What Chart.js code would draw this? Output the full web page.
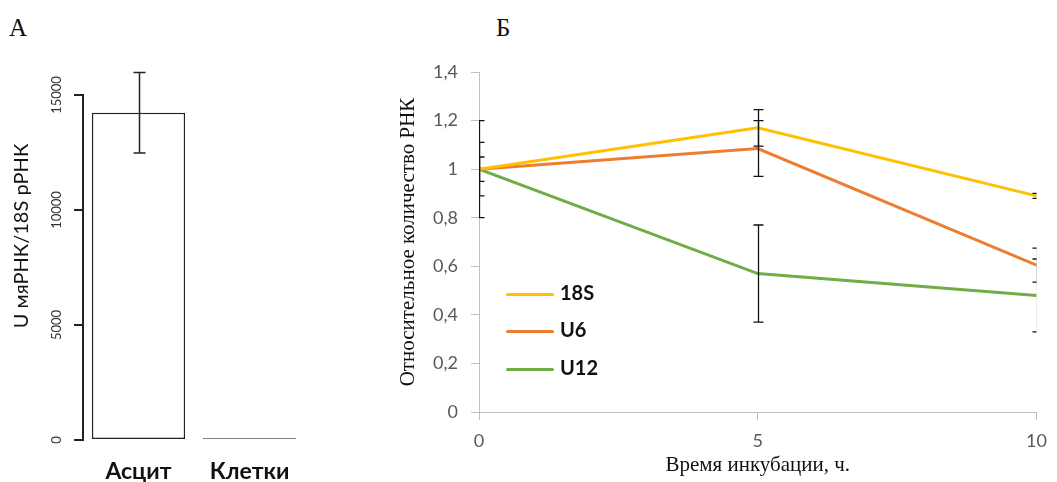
<!DOCTYPE html>
<html>
<head>
<meta charset="utf-8">
<script src="https://cdn.jsdelivr.net/npm/chart.js@4.4.0/dist/chart.umd.min.js"></script>
<style>
    body { margin: 0; width: 1057px; height: 482px; background: #fff; position: relative; overflow: hidden; }
    #wrapA { position: absolute; left: 0; top: 0; width: 320px; height: 482px; }
    #wrapB { position: absolute; left: 380px; top: 0; width: 677px; height: 482px; }
    .panel { position: absolute; font-family: "Liberation Serif", serif; font-size: 25px; color: #111; }
    .leg { position: absolute; left: 506px; font-family: Lato, sans-serif; font-weight: bold; font-size: 20px; color: #111; }
    .leg span { display: inline-block; width: 48px; height: 3px; vertical-align: middle; margin-right: 6px; border-radius: 2px; }
</style>
</head>
<body>
<div class="panel" style="left:9px;top:14px;">А</div>
<div class="panel" style="left:496px;top:14px;">Б</div>
<div id="wrapA"><canvas id="chartA" width="320" height="482"></canvas></div>
<div id="wrapB"><canvas id="chartB" width="677" height="482"></canvas></div>
<div class="leg" style="top:280px;"><span style="background:#FFC000"></span>18S</div>
<div class="leg" style="top:317px;"><span style="background:#ED7D31"></span>U6</div>
<div class="leg" style="top:355px;"><span style="background:#70AD47"></span>U12</div>

<script>
// панель А: U мяРНК / 18S рРНК
const categoriesA = ['Асцит', 'Клетки'];
const valuesA = [14230, 80];
const errorsA = [1750, 0];
const yTicksA = [0, 5000, 10000, 15000];

// панель Б: относительное количество РНК по времени
const timePoints = [0, 5, 10];
const series18S = [1, 1.17, 0.89];
const seriesU6 = [1, 1.085, 0.605];
const seriesU12 = [1, 0.57, 0.48];
const err18S = [0.11, 0.075, 0.01];
const errU6 = [0.05, 0.115, 0.07];
const errU12 = [0.2, 0.2, 0.15];

Chart.defaults.animation = false;
Chart.defaults.responsive = false;

// barras de error en negro, recortadas al área del gráfico
const errorBarPlugin = {
    id: 'errorBars',
    afterDatasetsDraw(chart, args, opts) {
        const ctx = chart.ctx;
        const area = chart.chartArea;
        const yScale = chart.scales.y;
        ctx.save();
        ctx.beginPath();
        ctx.rect(area.left, area.top - 40, area.right - area.left, area.bottom - area.top + 40);
        ctx.clip();
        ctx.strokeStyle = opts.color || '#111';
        ctx.lineWidth = opts.width || 1.3;
        chart.data.datasets.forEach((ds, i) => {
            if (!ds.errors) return;
            const meta = chart.getDatasetMeta(i);
            meta.data.forEach((el, j) => {
                const e = ds.errors[j];
                if (!e) return;
                const raw = ds.data[j];
                const v = typeof raw === 'object' ? raw.y : raw;
                const x = Math.round(el.x) + 0.5;
                const yTop = yScale.getPixelForValue(v + e);
                const yBot = yScale.getPixelForValue(v - e);
                const cap = opts.cap || 5;
                ctx.beginPath();
                ctx.moveTo(x, yTop); ctx.lineTo(x, yBot);
                ctx.moveTo(x - cap, yTop); ctx.lineTo(x + cap, yTop);
                ctx.moveTo(x - cap, yBot); ctx.lineTo(x + cap, yBot);
                ctx.stroke();
            });
        });
        ctx.restore();
    }
};

// eje Y de la panel A sólo entre 0 y 15000
const axisLineA = {
    id: 'axisLineA',
    afterDraw(chart) {
        const ctx = chart.ctx;
        const y = chart.scales.y;
        const x = Math.round(chart.chartArea.left);
        ctx.save();
        ctx.strokeStyle = '#222';
        ctx.lineWidth = 2;
        ctx.beginPath();
        ctx.moveTo(x, y.getPixelForValue(yTicksA[0]) + 1);
        ctx.lineTo(x, y.getPixelForValue(yTicksA[yTicksA.length - 1]) - 1);
        ctx.stroke();
        ctx.restore();
    }
};

new Chart(document.getElementById('chartA'), {
    type: 'bar',
    data: {
        labels: categoriesA,
        datasets: [{
            data: valuesA,
            errors: errorsA,
            backgroundColor: '#fff',
            borderColor: '#222',
            borderWidth: 1.5,
            borderSkipped: false,
            barPercentage: 0.84,
            categoryPercentage: 1
        }]
    },
    options: {
        layout: { padding: { top: 32, right: 15, left: 0, bottom: 0 } },
        plugins: {
            legend: { display: false },
            tooltip: { enabled: false },
            errorBars: { cap: 6, width: 1.5, color: '#222' }
        },
        scales: {
            x: {
                grid: { display: false },
                border: { display: false },
                ticks: { color: '#111', padding: 10, font: { family: 'Lato', size: 23, weight: 'bold' } },
                afterFit(scale) { scale.height = 42; }
            },
            y: {
                min: 0,
                max: 17740,
                afterBuildTicks(scale) { scale.ticks = yTicksA.map(v => ({ value: v })); },
                grid: { drawOnChartArea: false, drawTicks: true, tickLength: 9, color: '#222', lineWidth: 2 },
                border: { display: false },
                ticks: {
                    minRotation: 90, maxRotation: 90, crossAlign: 'center', padding: -2,
                    color: '#333', font: { family: 'Lato', size: 13 },
                    callback: v => String(v)
                },
                title: {
                    display: true, text: 'U мяРНК/18S рРНК', color: '#111',
                    font: { family: 'Lato', size: 20 }, padding: { top: 10, bottom: 0 }
                },
                afterFit(scale) { scale.width = 83; }
            }
        }
    },
    plugins: [errorBarPlugin, axisLineA]
});

const toPoints = arr => arr.map((v, i) => ({ x: timePoints[i], y: v }));

new Chart(document.getElementById('chartB'), {
    type: 'line',
    data: {
        datasets: [
            { label: '18S', data: toPoints(series18S), errors: err18S, borderColor: '#FFC000' },
            { label: 'U6', data: toPoints(seriesU6), errors: errU6, borderColor: '#ED7D31' },
            { label: 'U12', data: toPoints(seriesU12), errors: errU12, borderColor: '#70AD47' }
        ]
    },
    options: {
        elements: { line: { borderWidth: 3, tension: 0 }, point: { radius: 0 } },
        layout: { padding: { top: 72, right: 14, left: 0, bottom: 0 } },
        plugins: {
            legend: { display: false },
            tooltip: { enabled: false },
            errorBars: { cap: 5, width: 1.3, color: '#111' }
        },
        scales: {
            x: {
                type: 'linear', min: 0, max: 10,
                ticks: { stepSize: 5, padding: 10, color: '#595959', font: { family: 'Lato', size: 18 } },
                grid: { drawOnChartArea: false, tickLength: 8, color: '#bfbfbf' },
                border: { color: '#bfbfbf' },
                title: {
                    display: true, text: 'Время инкубации, ч.', color: '#111',
                    font: { family: 'Liberation Serif', size: 21 }, padding: { top: 0, bottom: 4 }
                },
                afterFit(scale) { scale.height = 70; }
            },
            y: {
                min: 0, max: 1.4,
                ticks: {
                    stepSize: 0.2, padding: 13, color: '#595959', font: { family: 'Lato', size: 18 },
                    callback: v => String(Math.round(v * 10) / 10).replace('.', ',')
                },
                grid: { drawOnChartArea: false, tickLength: 8, color: '#bfbfbf' },
                border: { color: '#bfbfbf' },
                title: {
                    display: true, text: 'Относительное количество РНК', color: '#111',
                    font: { family: 'Liberation Serif', size: 21 }, padding: { top: 16, bottom: 0 }
                },
                afterFit(scale) { scale.width = 99; }
            }
        }
    },
    plugins: [errorBarPlugin]
});
</script>
</body>
</html>
